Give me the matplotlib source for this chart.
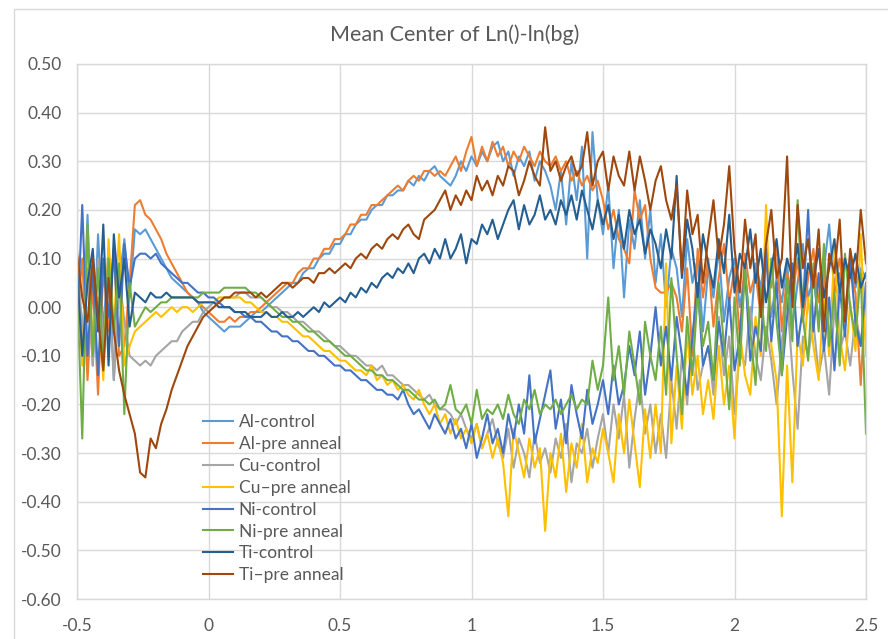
import numpy as np
import matplotlib
matplotlib.use("Agg")
import matplotlib.pyplot as plt
from matplotlib.patches import Rectangle

plt.rcParams['font.family'] = ['Lato', 'DejaVu Sans']

# sample grid: -0.5 .. 2.5 in steps of 0.02
x_start, x_stop, n_points = -0.5, 2.5, 151

series_names = ["Al-control", "Al-pre anneal", "Cu-control", "Cu\u2013pre anneal",
                "Ni-control", "Ni-pre anneal", "Ti-control", "Ti\u2013pre anneal"]
series_colors = ["#5B9BD5", "#ED7D31", "#A5A5A5", "#FFC000",
                 "#4472C4", "#70AD47", "#255E91", "#9E480E"]

al_control = [
    0.08, -0.10, 0.19, -0.12, 0.15, -0.05, 0.12, -0.15, 0.05, 0.14,
    0.02, 0.16, 0.15, 0.16, 0.14, 0.12, 0.10, 0.08, 0.06, 0.05,
    0.04, 0.03, 0.02, 0.01, -0.01, -0.02, -0.03, -0.04, -0.05, -0.04,
    -0.04, -0.04, -0.03, -0.02, -0.01, -0.01, 0.00, 0.01, 0.02, 0.03,
    0.04, 0.05, 0.05, 0.07, 0.08, 0.08, 0.10, 0.11, 0.11, 0.13,
    0.13, 0.15, 0.15, 0.17, 0.18, 0.18, 0.20, 0.21, 0.21, 0.23,
    0.23, 0.24, 0.24, 0.26, 0.25, 0.27, 0.26, 0.28, 0.29, 0.27,
    0.26, 0.25, 0.27, 0.30, 0.28, 0.31, 0.29, 0.32, 0.30, 0.33,
    0.34, 0.30, 0.32, 0.27, 0.31, 0.29, 0.32, 0.26, 0.30, 0.28,
    0.25, 0.20, 0.28, 0.17, 0.30, 0.22, 0.33, 0.10, 0.36, 0.22,
    0.15, 0.25, 0.08, 0.20, 0.02, 0.18, 0.12, 0.22, 0.10, 0.20,
    0.05, 0.15, 0.00, 0.12, 0.08, -0.02, 0.14, 0.05, 0.10, -0.05,
    0.08, 0.02, 0.12, -0.03, 0.06, 0.10, 0.00, 0.07, -0.05, 0.09,
    0.04, 0.12, -0.02, 0.06, 0.01, 0.09, -0.04, 0.05, 0.13, 0.02,
    0.06, -0.03, 0.08, 0.17, 0.03, 0.07, -0.02, 0.10, 0.04, 0.08,
    0.06]

al_pre_anneal = [
    -0.02, 0.10, -0.15, 0.05, -0.18, 0.08, -0.05, 0.12, -0.10, -0.08,
    0.05, 0.21, 0.22, 0.19, 0.18, 0.16, 0.14, 0.11, 0.09, 0.07,
    0.05, 0.03, 0.02, 0.01, 0.00, -0.01, -0.02, -0.03, -0.03, -0.02,
    -0.03, -0.02, -0.02, -0.01, -0.01, 0.00, 0.01, 0.02, 0.03, 0.04,
    0.05, 0.05, 0.07, 0.08, 0.08, 0.10, 0.10, 0.12, 0.12, 0.14,
    0.14, 0.15, 0.17, 0.17, 0.19, 0.19, 0.21, 0.21, 0.22, 0.23,
    0.24, 0.25, 0.24, 0.26, 0.27, 0.26, 0.28, 0.28, 0.27, 0.28,
    0.27, 0.29, 0.31, 0.28, 0.32, 0.35, 0.29, 0.33, 0.30, 0.34,
    0.31, 0.33, 0.29, 0.32, 0.30, 0.33, 0.31, 0.29, 0.32, 0.30,
    0.29, 0.31, 0.28, 0.30, 0.26, 0.28, 0.25, 0.27, 0.24, 0.26,
    0.22, 0.16, 0.20, 0.14, 0.12, 0.09, 0.24, 0.18, 0.21, 0.10,
    0.04, 0.03, 0.03, 0.05, 0.02, -0.05, 0.08, -0.10, 0.12, 0.02,
    0.10, -0.04, 0.06, 0.13, 0.01, 0.08, -0.06, 0.11, 0.03, 0.07,
    -0.02, 0.09, 0.04, 0.13, -0.05, 0.07, 0.02, 0.10, -0.03, 0.06,
    0.12, 0.01, 0.08, -0.07, 0.05, 0.10, -0.02, 0.07, 0.03, -0.16,
    0.05]

cu_control = [
    0.12, -0.05, 0.08, -0.12, 0.10, -0.08, 0.05, -0.15, 0.07, -0.03,
    -0.10, -0.11, -0.12, -0.11, -0.12, -0.10, -0.09, -0.08, -0.07, -0.07,
    -0.05, -0.04, -0.03, -0.03, -0.01, 0.00, 0.01, 0.01, 0.02, 0.02,
    0.02, 0.03, 0.03, 0.02, 0.02, 0.02, 0.01, 0.00, 0.00, -0.01,
    -0.01, -0.02, -0.03, -0.03, -0.04, -0.05, -0.05, -0.06, -0.07, -0.08,
    -0.08, -0.09, -0.10, -0.10, -0.11, -0.12, -0.12, -0.13, -0.12, -0.14,
    -0.14, -0.15, -0.16, -0.16, -0.17, -0.18, -0.19, -0.18, -0.20, -0.21,
    -0.21, -0.22, -0.24, -0.22, -0.25, -0.27, -0.24, -0.29, -0.26, -0.23,
    -0.28, -0.31, -0.25, -0.33, -0.27, -0.30, -0.35, -0.26, -0.32, -0.29,
    -0.34, -0.27, -0.31, -0.24, -0.36, -0.28, -0.30, -0.25, -0.33, -0.27,
    -0.22, -0.30, -0.20, -0.27, -0.18, -0.33, -0.23, -0.15, -0.26, -0.20,
    -0.30, -0.22, -0.31, -0.15, -0.25, -0.10, -0.20, -0.05, -0.17, -0.12,
    -0.08, -0.18, -0.02, -0.14, -0.06, -0.22, -0.09, -0.12, 0.00, -0.10,
    -0.15, -0.04, -0.11, -0.20, -0.07, 0.02, -0.13, -0.25, -0.06, -0.10,
    -0.03, -0.14, -0.08, -0.18, 0.00, -0.09, -0.05, -0.12, -0.02, -0.07,
    -0.05]

cu_pre_anneal = [
    0.06, -0.12, 0.15, -0.08, 0.02, -0.15, 0.14, -0.04, 0.15, -0.12,
    -0.08, -0.05, -0.04, -0.03, -0.02, -0.01, -0.02, -0.01, 0.00, -0.01,
    0.00, 0.00, -0.01, 0.00, 0.01, 0.01, 0.01, 0.02, 0.02, 0.02,
    0.02, 0.02, 0.01, 0.01, 0.00, -0.01, -0.01, -0.02, -0.02, -0.03,
    -0.03, -0.04, -0.05, -0.06, -0.06, -0.07, -0.08, -0.09, -0.09, -0.10,
    -0.11, -0.11, -0.12, -0.13, -0.13, -0.14, -0.12, -0.15, -0.14, -0.16,
    -0.15, -0.17, -0.16, -0.18, -0.19, -0.17, -0.20, -0.22, -0.20, -0.24,
    -0.22, -0.26, -0.23, -0.27, -0.25, -0.28, -0.24, -0.29, -0.26, -0.31,
    -0.27, -0.32, -0.43, -0.25, -0.30, -0.35, -0.27, -0.33, -0.29, -0.46,
    -0.30, -0.35, -0.26, -0.38, -0.28, -0.33, -0.24, -0.36, -0.29, -0.32,
    -0.25, -0.30, -0.36, -0.22, -0.30, -0.19, -0.28, -0.37, -0.21, -0.31,
    -0.20, -0.30, 0.09, -0.28, -0.12, -0.25, -0.05, -0.18, -0.10, -0.22,
    -0.15, -0.23, -0.08, -0.20, -0.12, -0.27, -0.05, -0.14, -0.18, -0.02,
    -0.10, 0.21, -0.08, -0.15, -0.43, -0.12, -0.36, -0.05, -0.12, 0.02,
    -0.08, -0.15, 0.03, -0.10, 0.12, -0.06, -0.13, 0.01, -0.09, 0.15,
    -0.10]

ni_control = [
    -0.05, 0.21, -0.10, 0.08, -0.14, 0.10, -0.02, 0.12, -0.08, 0.13,
    0.04, 0.10, 0.11, 0.11, 0.10, 0.11, 0.09, 0.08, 0.07, 0.06,
    0.05, 0.05, 0.04, 0.03, 0.03, 0.02, 0.02, 0.01, 0.00, 0.00,
    -0.01, -0.01, -0.02, -0.02, -0.03, -0.03, -0.04, -0.05, -0.05, -0.06,
    -0.06, -0.07, -0.07, -0.08, -0.09, -0.09, -0.10, -0.10, -0.11, -0.12,
    -0.12, -0.13, -0.13, -0.14, -0.15, -0.15, -0.16, -0.17, -0.17, -0.18,
    -0.18, -0.19, -0.17, -0.20, -0.22, -0.21, -0.23, -0.25, -0.22, -0.24,
    -0.26, -0.23, -0.27, -0.25, -0.29, -0.24, -0.31, -0.27, -0.22, -0.28,
    -0.25, -0.30, -0.22, -0.27, -0.20, -0.26, -0.14, -0.28, -0.23, -0.18,
    -0.13, -0.25, -0.19, -0.28, -0.16, -0.22, -0.27, -0.17, -0.24, -0.20,
    -0.15, -0.22, -0.12, -0.20, -0.16, -0.08, -0.14, -0.05, -0.18, -0.10,
    0.00, -0.12, -0.04, -0.15, -0.02, -0.10, -0.18, -0.06, 0.05, -0.12,
    -0.08, -0.15, -0.03, -0.10, 0.02, -0.13, -0.06, 0.08, -0.11, -0.04,
    -0.09, 0.12, -0.07, 0.05, -0.14, -0.02, 0.09, -0.08, 0.00, 0.20,
    -0.05, 0.07, -0.09, 0.02, -0.13, 0.04, -0.06, 0.10, -0.03, -0.08,
    0.05]

ni_pre_anneal = [
    0.05, -0.27, 0.17, -0.10, 0.08, -0.12, 0.10, -0.05, 0.09, -0.22,
    0.05, -0.04, -0.02, 0.00, -0.01, 0.00, 0.01, 0.01, 0.02, 0.02,
    0.02, 0.02, 0.02, 0.02, 0.03, 0.03, 0.03, 0.03, 0.04, 0.04,
    0.04, 0.04, 0.04, 0.03, 0.03, 0.02, 0.01, 0.00, -0.01, -0.02,
    -0.02, -0.03, -0.03, -0.04, -0.05, -0.05, -0.06, -0.07, -0.07, -0.08,
    -0.09, -0.10, -0.10, -0.11, -0.12, -0.13, -0.13, -0.14, -0.14, -0.15,
    -0.15, -0.16, -0.17, -0.17, -0.18, -0.19, -0.19, -0.20, -0.19, -0.21,
    -0.20, -0.16, -0.21, -0.22, -0.20, -0.24, -0.17, -0.23, -0.21, -0.22,
    -0.20, -0.23, -0.18, -0.22, -0.24, -0.19, -0.21, -0.17, -0.22, -0.20,
    -0.21, -0.19, -0.22, -0.20, -0.18, -0.21, -0.19, -0.20, -0.11, -0.17,
    -0.12, 0.02, -0.15, -0.08, -0.18, -0.05, -0.12, -0.20, -0.03, -0.10,
    -0.15, -0.04, -0.18, 0.06, -0.10, -0.22, -0.02, -0.14, 0.03, -0.08,
    -0.03, -0.15, 0.05, -0.08, -0.21, 0.02, -0.12, 0.08, -0.05, -0.16,
    0.04, -0.09, 0.10, -0.03, -0.14, 0.06, -0.07, 0.22, -0.02, -0.11,
    0.09, -0.05, 0.13, -0.08, 0.03, -0.12, 0.11, 0.00, -0.06, 0.07,
    -0.26]

ti_control = [
    0.08, -0.10, 0.05, 0.12, -0.05, 0.17, -0.12, 0.15, 0.02, 0.10,
    -0.04, 0.03, 0.02, 0.01, 0.03, 0.02, 0.02, 0.03, 0.02, 0.02,
    0.02, 0.02, 0.02, 0.01, 0.01, 0.01, 0.01, 0.00, 0.00, 0.00,
    -0.01, -0.01, -0.01, -0.02, -0.02, -0.02, -0.01, -0.02, -0.02, -0.01,
    -0.02, -0.02, -0.01, -0.02, -0.01, 0.00, -0.01, 0.01, 0.00, 0.01,
    0.02, 0.01, 0.03, 0.02, 0.04, 0.03, 0.05, 0.04, 0.06, 0.07,
    0.06, 0.08, 0.07, 0.09, 0.07, 0.10, 0.11, 0.09, 0.12, 0.10,
    0.14, 0.10, 0.12, 0.15, 0.09, 0.14, 0.13, 0.17, 0.15, 0.18,
    0.14, 0.17, 0.20, 0.22, 0.16, 0.21, 0.17, 0.19, 0.23, 0.18,
    0.20, 0.17, 0.22, 0.19, 0.23, 0.18, 0.24, 0.20, 0.16, 0.22,
    0.17, 0.21, 0.14, 0.19, 0.12, 0.20, 0.15, 0.18, 0.11, 0.16,
    0.13, 0.08, 0.16, 0.10, 0.27, 0.06, 0.18, 0.12, 0.02, 0.15,
    0.09, 0.04, 0.14, 0.07, 0.19, 0.03, 0.11, 0.08, 0.16, 0.05,
    0.12, 0.01, 0.08, 0.14, 0.04, 0.10, 0.06, 0.13, 0.00, 0.09,
    0.05, 0.12, 0.02, 0.08, 0.14, 0.03, 0.10, 0.06, 0.11, 0.04,
    0.07]

ti_pre_anneal = [
    0.11, 0.02, -0.03, 0.10, -0.02, -0.13, 0.06, -0.05, -0.13, -0.18,
    -0.22, -0.26, -0.34, -0.35, -0.27, -0.29, -0.24, -0.21, -0.17, -0.14,
    -0.11, -0.08, -0.06, -0.04, -0.02, -0.01, 0.00, 0.01, 0.02, 0.02,
    0.03, 0.03, 0.03, 0.03, 0.02, 0.03, 0.02, 0.03, 0.04, 0.05,
    0.05, 0.04, 0.05, 0.06, 0.06, 0.05, 0.07, 0.07, 0.08, 0.07,
    0.08, 0.09, 0.08, 0.10, 0.11, 0.10, 0.12, 0.13, 0.12, 0.14,
    0.15, 0.14, 0.16, 0.17, 0.15, 0.14, 0.18, 0.19, 0.20, 0.22,
    0.24, 0.20, 0.23, 0.21, 0.24, 0.22, 0.27, 0.24, 0.26, 0.23,
    0.27, 0.25, 0.29, 0.28, 0.23, 0.26, 0.30, 0.27, 0.25, 0.37,
    0.28, 0.30, 0.26, 0.29, 0.31, 0.27, 0.29, 0.36, 0.25, 0.30,
    0.32, 0.24, 0.31, 0.27, 0.25, 0.32, 0.24, 0.31, 0.26, 0.20,
    0.26, 0.29, 0.22, 0.18, 0.25, 0.07, 0.24, 0.15, 0.19, 0.05,
    0.14, 0.22, 0.10, 0.17, 0.29, 0.12, 0.03, 0.18, 0.08, 0.15,
    -0.02, 0.13, 0.20, 0.06, 0.10, 0.31, 0.00, 0.21, 0.08, 0.14,
    0.04, 0.16, -0.05, 0.11, 0.07, 0.18, -0.03, 0.12, 0.05, 0.20,
    0.09]

all_series = [al_control, al_pre_anneal, cu_control, cu_pre_anneal,
              ni_control, ni_pre_anneal, ti_control, ti_pre_anneal]

x_ticks = [-0.5, 0, 0.5, 1, 1.5, 2, 2.5]
x_tick_labels = ["-0.5", "0", "0.5", "1", "1.5", "2", "2.5"]
y_ticks = [0.5, 0.4, 0.3, 0.2, 0.1, 0.0, -0.1, -0.2, -0.3, -0.4, -0.5, -0.6]

x = np.round(np.linspace(x_start, x_stop, n_points), 2)

W, H = 888, 639
fig = plt.figure(figsize=(W / 100, H / 100), dpi=100)
ax = fig.add_axes([77 / W, 1 - 599 / H, (866 - 77) / W, (599 - 64) / H])

grid_col = "#D9D9D9"
text_col = "#595959"

for vals, name, col in zip(all_series, series_names, series_colors):
    ax.plot(x, vals, color=col, lw=1.5, label=name, solid_joinstyle="round")

ax.set_xlim(-0.5, 2.5)
ax.set_ylim(-0.6, 0.5)
ax.set_xticks(x_ticks)
ax.set_xticklabels(x_tick_labels)
ax.set_yticks(y_ticks)
ax.set_yticklabels([f"{v:.2f}" for v in y_ticks])
ax.grid(True, color=grid_col, lw=1.0)
ax.set_axisbelow(True)
for sp in ax.spines.values():
    sp.set_color(grid_col)
    sp.set_linewidth(1.0)
ax.tick_params(axis="both", length=0, colors=text_col, labelsize=12.5)
ax.tick_params(axis="y", pad=11)
ax.tick_params(axis="x", pad=14)

fig.text(455 / W, 1 - 35 / H, "Mean Center of Ln()-ln(bg)", ha="center", va="center",
         fontsize=15.5, color=text_col)

leg = ax.legend(loc="upper left", bbox_to_anchor=((203 - 77) / 789, (599 - 414) / 535),
                frameon=False, fontsize=12.5, borderpad=0, borderaxespad=0,
                handlelength=1.75, handletextpad=0.3, labelspacing=0.34)
for t in leg.get_texts():
    t.set_color(text_col)

# outer chart-area border
fig.patches.append(Rectangle((14 / W, -0.01), 1.0, 1 - 9 / H + 0.01, transform=fig.transFigure,
                             fill=False, edgecolor=grid_col, lw=1.0))

fig.savefig("out.png", dpi=100)
